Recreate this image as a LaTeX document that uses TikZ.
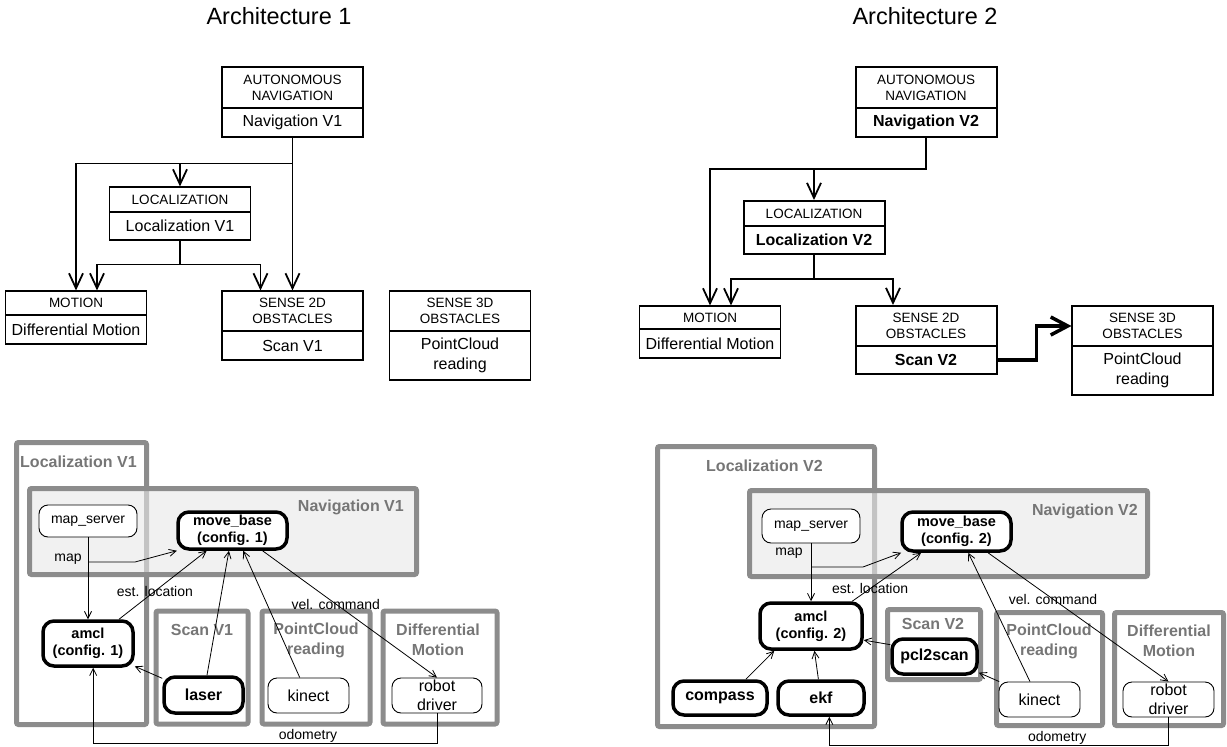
\documentclass[tikz,border=0pt]{standalone}
\usepackage{fontspec}
\setmainfont{Liberation Sans}
\usetikzlibrary{arrows.meta}
\definecolor{frgray}{RGB}{140,140,140}
\definecolor{ftgray}{RGB}{118,118,118}
\definecolor{navfill}{RGB}{232,232,232}
\begin{document}
\begin{tikzpicture}[x=1pt, y=-1pt,
  hd/.style={draw, line width=1.1, minimum width=141, inner sep=0, align=center, font=\fontsize{13.5}{16}\selectfont},
  bx/.style={hd, font=\fontsize{16}{20}\selectfont},
  hdv/.style={hd, line width=2},
  bxv/.style={bx, line width=2, font=\bfseries\fontsize{16}{20}\selectfont},
  tarr/.style={line width=1.8, -{Straight Barb[length=15pt, width=14pt]}},
  frm/.style={draw=frgray, line width=5, rounded corners=2},
  ftl/.style={text=ftgray, inner sep=0, align=center, font=\bfseries\fontsize{16}{20}\selectfont},
  nd/.style={draw, fill=white, rounded corners=9, line width=0.9, inner sep=0, align=center, font=\fontsize{16}{19}\selectfont},
  bnd/.style={nd, line width=3.5, rounded corners=11, font=\bfseries\fontsize{14.5}{17}\selectfont},
  bnd1/.style={bnd, font=\bfseries\fontsize{16}{19}\selectfont},
  narr/.style={line width=0.8, -{Straight Barb[length=7pt, width=7pt]}},
  lbl/.style={inner sep=1, font=\fontsize{14}{16}\selectfont}]

\useasboundingbox (0,0) rectangle (1227,747);

\node[font=\fontsize{23.5}{26}\selectfont] (arch1) at (279,16) {Architecture 1};
\node[font=\fontsize{23.5}{26}\selectfont] (arch2) at (925,16) {Architecture 2};

\node[hd, minimum height=41] (navh1) at (292.5,87.5) {AUTONOMOUS\\NAVIGATION};
\node[bx, minimum height=29] (nav1) at (292.5,122.5) {Navigation V1};
\node[hd, minimum height=25] (loch1) at (180,199.5) {LOCALIZATION};
\node[bx, minimum height=28] (loc1) at (180,226) {Localization V1};
\node[hd, minimum height=24] (moth1) at (76,303) {MOTION};
\node[bx, minimum height=29] (mot1) at (76,329.5) {Differential Motion};
\node[hd, minimum height=40] (s2dh1) at (292.5,311) {SENSE 2D\\OBSTACLES};
\node[bx, minimum height=29] (s2d1) at (292.5,345.5) {Scan V1};
\node[hd, minimum height=40] (s3dh1) at (460,311) {SENSE 3D\\OBSTACLES};
\node[bx, minimum height=49] (s3d1) at (460,355.5) {PointCloud\\reading};

\draw[tarr] (nav1.south) -- (s2dh1.north);
\draw[tarr] (nav1.south) -- ++(0,26) -| (moth1.north);
\draw[tarr] ([yshift=-26pt]nav1.south) -| (loch1.north);
\draw[tarr] (loc1.south) -- ++(0,24) -| ([xshift=21pt]moth1.north);
\draw[tarr] ([yshift=-24pt]loc1.south) -| ([xshift=-32pt]s2dh1.north);

\node[hdv, minimum height=41] (navh2) at (926,87.5) {AUTONOMOUS\\NAVIGATION};
\node[bxv, minimum height=29] (nav2) at (926,122.5) {Navigation V2};
\node[hdv, minimum height=25] (loch2) at (814,213.5) {LOCALIZATION};
\node[bxv, minimum height=28] (loc2) at (814,240) {Localization V2};
\node[hd, minimum height=23] (moth2) at (710,317.5) {MOTION};
\node[bx, minimum height=29] (mot2) at (710,343.5) {Differential Motion};
\node[hdv, minimum height=40] (s2dh2) at (926,326) {SENSE 2D\\OBSTACLES};
\node[bxv, minimum height=28] (s2d2) at (926,360) {Scan V2};
\node[hd, minimum height=40] (s3dh2) at (1142.5,326) {SENSE 3D\\OBSTACLES};
\node[bx, minimum height=49] (s3d2) at (1142.5,370.5) {PointCloud\\reading};

\draw[tarr] (nav2.south) -- ++(0,31) -| (moth2.north);
\draw[tarr] ([yshift=-31pt]nav2.south) -| (loch2.north);
\draw[tarr] (loc2.south) -- ++(0,24) -| ([xshift=21pt]moth2.north);
\draw[tarr] ([yshift=-24pt]loc2.south) -| ([xshift=-33pt]s2dh2.north);
\draw[line width=3.5, -{Straight Barb[length=17pt, width=18pt]}] (s2d2.east) -- ++(39,0) |- (s3dh2.west);

\draw[frm] (16.5,442.5) rectangle (146.5,724.5);
\draw[frm, fill=navfill, fill opacity=0.6] (29.5,488.5) rectangle (416.5,574.5);
\draw[frm] (156,611) rectangle (248,724);
\draw[frm] (262,611) rectangle (370,724);
\draw[frm] (383,611) rectangle (497,724);

\node[ftl, anchor=west] (tloc1) at (20,462) {Localization V1};
\node[ftl, anchor=east] (tnav1) at (404,507) {Navigation V1};
\node[ftl] (tscan1) at (202,630) {Scan V1};
\node[ftl] (tpcl1) at (316,640) {PointCloud\\reading};
\node[ftl] (tdif1) at (438,640) {Differential\\Motion};

\node[nd, minimum width=98, minimum height=32, font=\fontsize{14}{16}\selectfont] (map1) at (88,521) {map\_server};
\node[bnd, minimum width=109, minimum height=37] (move1) at (232.5,530.5) {move\_base\\(config. 1)};
\node[bnd, minimum width=90, minimum height=45] (amcl1) at (88,643.5) {amcl\\(config. 1)};
\node[bnd1, minimum width=79, minimum height=36] (laser) at (203.5,695) {laser};
\node[nd, minimum width=81, minimum height=35] (kin1) at (308.5,695.5) {kinect};
\node[nd, minimum width=90, minimum height=35] (drv1) at (437,695.5) {robot\\driver};

\coordinate (mj1) at (88,562);
\node[lbl] (lm1) at (68,559) {map};
\draw[narr] (map1) -- (amcl1);
\draw[narr] (mj1) -- ++(47,0) -- (move1.200);
\draw[narr] (amcl1) -- (move1) node[lbl, pos=0.41] {est. location};
\draw[narr] (laser.158) -- (amcl1.334);
\draw[narr] (laser) -- (move1);
\draw[narr] (kin1.116) -- (move1.298);
\draw[narr] (move1.326) -- (drv1.north) node[lbl, pos=0.42] {vel. command};
\draw[narr] (drv1.south) -- ++(0,30) -| (amcl1.282) node[lbl, above, pos=0.1875] {odometry};

\draw[frm] (657.5,446.5) rectangle (874.5,726.5);
\draw[frm, fill=navfill, fill opacity=0.6] (749.5,490.5) rectangle (1147.5,576.5);
\draw[frm] (887.5,609.5) rectangle (980.5,679.5);
\draw[frm] (996.5,612.5) rectangle (1102.5,725.5);
\draw[frm] (1114.5,612.5) rectangle (1223.5,725.5);

\node[ftl, anchor=west] (tloc2) at (706,466) {Localization V2};
\node[ftl, anchor=east] (tnav2) at (1138,511) {Navigation V2};
\node[ftl] (tscan2) at (933,624) {Scan V2};
\node[ftl] (tpcl2) at (1049,641) {PointCloud\\reading};
\node[ftl] (tdif2) at (1169,641) {Differential\\Motion};

\node[nd, minimum width=98, minimum height=34, font=\fontsize{14}{16}\selectfont] (map2) at (811,526) {map\_server};
\node[bnd, minimum width=109, minimum height=39] (move2) at (956.5,531.5) {move\_base\\(config. 2)};
\node[bnd, minimum width=102, minimum height=46] (amcl2) at (811,626) {amcl\\(config. 2)};
\node[bnd1, minimum width=85, minimum height=35] (pcl) at (934.5,656.5) {pcl2scan};
\node[bnd1, minimum width=94, minimum height=34] (compass) at (720,698) {compass};
\node[bnd1, minimum width=86, minimum height=34] (ekf) at (821,698) {ekf};
\node[nd, minimum width=81, minimum height=35] (kin2) at (1039.5,699.5) {kinect};
\node[nd, minimum width=91, minimum height=35] (drv2) at (1168.5,699.5) {robot\\driver};

\coordinate (mj2) at (811,567);
\node[lbl] (lm2) at (789,553) {map};
\draw[narr] (map2) -- (amcl2);
\draw[narr] (mj2) -- ++(52,0) -- (move2.201);
\draw[narr] (amcl2.31) -- (move2.211) node[lbl, pos=0.26] {est. location};
\draw[narr] (pcl.165) -- (amcl2.345);
\draw[narr] (compass.36) -- (amcl2.214);
\draw[narr] (ekf) -- (amcl2);
\draw[narr] (kin2.156) -- (pcl.340);
\draw[narr] (kin2.118) -- (move2.299);
\draw[narr] (move2.326) -- (drv2.north) node[lbl, pos=0.36] {vel. command};
\draw[narr] (drv2.south) -- ++(0,28) -| (ekf.294) node[lbl, above, pos=0.164] {odometry};
\end{tikzpicture}
\end{document}
